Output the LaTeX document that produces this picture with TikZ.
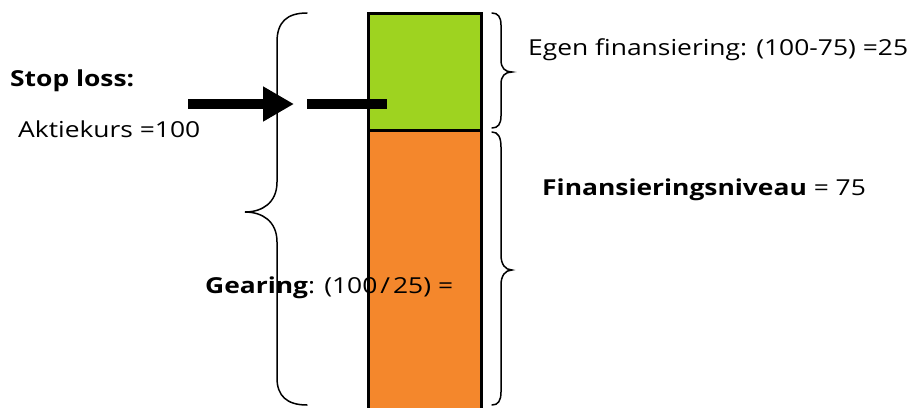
\documentclass[tikz,border=0pt]{standalone}
\usepackage{fontspec}
\setmainfont{Open Sans}[FakeStretch=1.2]
\usetikzlibrary{arrows.meta}
\definecolor{eqgreen}{RGB}{158,211,32}
\definecolor{debtorange}{RGB}{244,135,44}
\tikzset{
  txt/.style={anchor=base west, inner sep=0pt, font=\fontsize{22}{26}\selectfont},
  brace/.style={line width=1.5pt, line cap=round},
  part/.style={draw=black, line width=3pt},
}
\begin{document}
\begin{tikzpicture}[x=1pt,y=-1pt]
\useasboundingbox (0,0) rectangle (913,407);
\clip (0,0) rectangle (913,407);
% bar
\path[part, fill=debtorange] (368,130) rectangle (481,420);
\path[part, fill=eqgreen] (368,13) rectangle (481,130);
% arrow and marker
\coordinate (as) at (188,104);
\coordinate (ae) at (294,104);
\coordinate (ms) at (307,104);
\coordinate (me) at (387,104);
\draw[line width=10pt, -{Triangle[length=31pt,width=33pt]}] (as) -- (ae);
\draw[line width=10pt] (ms) -- (me);
% left brace
\draw[brace] (307,13) .. controls (287,13) and (277,22) .. (277,42) -- (277,182)
  .. controls (277,203) and (262,212) .. (245,212)
  .. controls (262,212) and (277,221) .. (277,242) -- (277,378)
  .. controls (277,396) and (287,405) .. (307,405);
% right braces
\draw[brace] (492,13) .. controls (498,13) and (501,17) .. (501,25) -- (501,60)
  .. controls (501,68) and (505,72) .. (512,72)
  .. controls (505,72) and (501,76) .. (501,84) -- (501,116)
  .. controls (501,124) and (498,128) .. (492,128);
\draw[brace] (492,132) .. controls (498,132) and (501,137) .. (501,147) -- (501,255)
  .. controls (501,264) and (505,270) .. (512,270)
  .. controls (505,270) and (501,276) .. (501,285) -- (501,392)
  .. controls (501,401) and (498,405) .. (492,405);
% texts
\node[txt] (stop) at (10,86) {\textbf{Stop loss:}};
\node[txt] (kurs) at (18,137) {Aktiekurs =100};
\node[txt] (egen) at (528,55) {Egen finansiering: (100-75) =25};
\node[txt] (fin) at (542,195) {\textbf{Finansieringsniveau} = 75};
\node[txt] (gear) at (205,293) {\textbf{Gearing}: (100\kern3pt/\kern3pt25) =};
\end{tikzpicture}
\end{document}
